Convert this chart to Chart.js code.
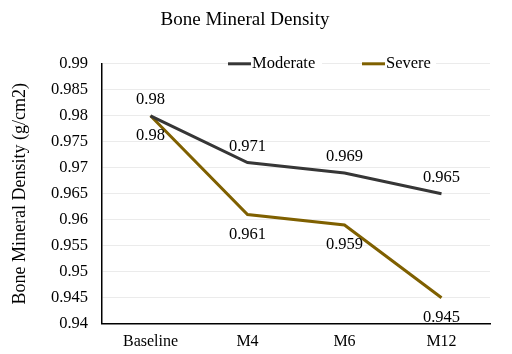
<!DOCTYPE html>
<html><head><meta charset="utf-8">
<script src="https://cdn.jsdelivr.net/npm/chart.js@4"></script>
<style>html,body{margin:0;padding:0;background:#fff}#wrap{width:512px;height:354px}</style>
</head><body><div id="wrap"><canvas id="c" width="512" height="354"></canvas></div>
<script>
const categories = ["Baseline", "M4", "M6", "M12"];
const moderate = [0.98, 0.971, 0.969, 0.965];
const severe = [0.98, 0.961, 0.959, 0.945];
const yTicks = [0.94, 0.945, 0.95, 0.955, 0.96, 0.965, 0.97, 0.975, 0.98, 0.985, 0.99];
const FONT = "'Liberation Serif', 'DejaVu Serif', serif";
const colMod = '#363636', colSev = '#7f6000';

const labelPlugin = {
  id: 'labels',
  afterDatasetsDraw(chart) {
    const ctx = chart.ctx;
    ctx.save();
    ctx.font = "16.5px " + FONT;
    ctx.fillStyle = '#000';
    ctx.textAlign = 'center';
    ctx.textBaseline = 'middle';
    chart.data.datasets.forEach((ds, i) => {
      const meta = chart.getDatasetMeta(i);
      meta.data.forEach((pt, j) => {
        const off = i === 0 ? -16 : 20;
        ctx.fillText(String(ds.data[j]), pt.x, pt.y + off);
      });
    });
    // legend
    const items = [[228, 'Moderate', colMod], [362, 'Severe', colSev]];
    const ly = chart.chartArea.top;
    items.forEach(([x, t, c]) => {
      ctx.fillStyle = '#fff';
      ctx.fillRect(x, ly - 9, t === 'Moderate' ? 94 : 74, 18);
      ctx.strokeStyle = c; ctx.lineWidth = 3;
      ctx.beginPath(); ctx.moveTo(x, ly); ctx.lineTo(x + 23, ly); ctx.stroke();
      ctx.fillStyle = '#000'; ctx.textAlign = 'left';
      ctx.fillText(t, x + 24, ly);
    });
    ctx.restore();
  }
};

new Chart(document.getElementById('c'), {
  type: 'line',
  data: {
    labels: categories,
    datasets: [
      { label: 'Moderate', data: moderate, borderColor: colMod, borderWidth: 3, pointRadius: 0, tension: 0, fill: false },
      { label: 'Severe', data: severe, borderColor: colSev, borderWidth: 3, pointRadius: 0, tension: 0, fill: false }
    ]
  },
  options: {
    responsive: false,
    animation: false,
    layout: { padding: { left: 0, right: 22, top: 0, bottom: -5 } },
    plugins: {
      legend: { display: false },
      tooltip: { enabled: false },
      title: { display: true, text: 'Bone Mineral Density', color: '#000', font: { family: FONT, size: 19, weight: 'normal' }, padding: { top: 9, bottom: 32 } }
    },
    scales: {
      x: {
        offset: true,
        grid: { display: false, drawTicks: false },
        border: { color: '#000', width: 1.5 },
        ticks: { color: '#000', font: { family: FONT, size: 16 }, padding: 8 }
      },
      y: {
        min: 0.94, max: 0.99,
        afterBuildTicks(s) { s.ticks = yTicks.map(v => ({ value: v })); },
        afterFit(s) { s.width = 102; },
        grid: { color: '#ebebeb', drawTicks: false },
        border: { color: '#000', width: 1.5 },
        ticks: { color: '#000', font: { family: FONT, size: 16.5 }, padding: 14, callback: v => String(+v.toFixed(3)) },
        title: { display: true, text: 'Bone Mineral Density (g/cm2)', color: '#000', font: { family: FONT, size: 18 }, padding: { top: 9, bottom: 0 } }
      }
    }
  },
  plugins: [labelPlugin]
});
</script></body></html>
